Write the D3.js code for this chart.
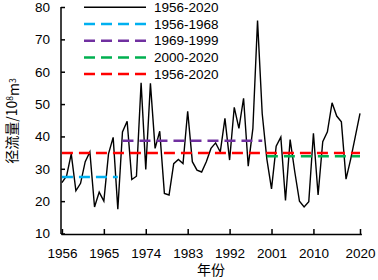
<!DOCTYPE html>
<html><head><meta charset="utf-8">
<script src="https://cdn.jsdelivr.net/npm/d3@7"></script>
<style>body{margin:0;background:#fff}svg{display:block}</style>
</head><body><svg id="c" width="378" height="280"></svg>
<script>
// ---- data ----
const startYear = 1956, endYear = 2020;
const runoff = [
  25.7, 27.8, 34.6, 23.2, 25.5, 32.2, 35.2, 18.2, 22.8, 20.0, 34.6, 39.7, 17.5,          // 1956-1968
  41.4, 44.7, 26.7, 27.7, 56.6, 29.8, 56.4, 36.3, 41.6, 22.4, 21.9, 31.6, 32.9, 31.6,    // 1969-1982
  47.8, 32.2, 29.6, 29.0, 32.2, 36.3, 38.0, 35.2, 45.6, 32.7, 49.0, 42.5, 51.8, 30.8,    // 1983-1996
  42.5, 75.8, 47.1,                                                                      // 1997-1999
  33.0, 23.8, 37.0, 39.8, 20.2, 39.0, 29.0, 20.0, 18.2, 19.8, 41.0, 21.9, 38.4, 41.4,    // 2000-2013
  50.4, 46.3, 44.5, 26.8, 33.0, 40.0, 47.1                                               // 2014-2020
];
const seriesLabel = "1956-2020";
const periodLabels = ["1956-1968", "1969-1999", "2000-2020", "1956-2020"];
const periodStart = [1956, 1969, 2000, 1956];
const periodEnd = [1968, 1999, 2020, 2020];
const periodColors = ["#00B0F0", "#7030A0", "#00B050", "#FF0000"];
const xTicks = [1956, 1965, 1974, 1983, 1992, 2001, 2010, 2020];
const yTicks = [10, 20, 30, 40, 50, 60, 70, 80];
const xTitle = "年份";

const years = d3.range(startYear, endYear + 1);
const series = years.map((yr, i) => ({year: yr, value: runoff[i]}));
const means = periodLabels.map((lab, k) => ({
  label: lab, start: periodStart[k], end: periodEnd[k], color: periodColors[k],
  mean: d3.mean(series.filter(d => d.year >= periodStart[k] && d.year <= periodEnd[k]), d => d.value)
}));

// ---- layout ----
const svg = d3.select("#c");
const font = "'Liberation Sans', Arial, sans-serif";
const x = d3.scaleLinear().domain([1955.8, 2020.3]).range([61, 361.4]);
const y = d3.scaleLinear().domain([10, 80]).range([233.5, 7]);
const axisY = 234;

// axes
const gx = svg.append("g").attr("transform", `translate(0,${axisY})`)
  .call(d3.axisBottom(x).tickValues(xTicks).tickFormat(d3.format("d"))
    .tickSizeInner(-5).tickSizeOuter(0).tickPadding(14));
const gy = svg.append("g").attr("transform", `translate(61,0)`)
  .call(d3.axisLeft(y).tickValues(yTicks).tickSizeInner(-4).tickSizeOuter(0).tickPadding(11));
[gx, gy].forEach(g => {
  g.select(".domain").attr("stroke", "#000").attr("stroke-width", 1.5);
  g.selectAll(".tick line").attr("stroke", "#000").attr("stroke-width", 1.5);
  g.selectAll(".tick text").attr("fill", "#000").style("font-family", font).style("font-size", "13.5px");
});
gy.select(".domain").attr("d", `M0,${y(80)}V${axisY}`);

// data line
const line = d3.line().x(d => x(d.year)).y(d => y(d.value));
svg.append("path").datum(series).attr("d", line)
  .attr("fill", "none").attr("stroke", "#000").attr("stroke-width", 1.4).attr("stroke-linejoin", "miter");

// mean lines
svg.selectAll(".mean").data(means).enter().append("line")
  .attr("x1", d => x(d.start)).attr("x2", d => x(d.end))
  .attr("y1", d => y(d.mean)).attr("y2", d => y(d.mean))
  .attr("stroke", d => d.color).attr("stroke-width", 2.5).attr("stroke-dasharray", "11,6");

// legend
const legendItems = [{label: seriesLabel, color: "#000", dash: null, w: 1.4}]
  .concat(means.map(d => ({label: d.label, color: d.color, dash: "11,6", w: 2.5})));
const lg = svg.append("g");
legendItems.forEach((d, i) => {
  const yy = 7.3 + i * 16.7;
  lg.append("line").attr("x1", 84).attr("x2", 146).attr("y1", yy).attr("y2", yy)
    .attr("stroke", d.color).attr("stroke-width", d.w).attr("stroke-dasharray", d.dash);
  lg.append("text").attr("x", 154).attr("y", yy).attr("dy", "0.35em")
    .style("font-family", font).style("font-size", "13.5px").attr("fill", "#000").text(d.label);
});

// titles
const yt = svg.append("text").attr("transform", "translate(17,121) rotate(-90)")
  .attr("text-anchor", "middle").style("font-family", "'Noto Sans CJK SC', sans-serif")
  .style("font-size", "14px").attr("fill", "#000");
yt.append("tspan").text("径流量/10");
yt.append("tspan").attr("dy", "-0.45em").style("font-size", "8.5px").text("8");
yt.append("tspan").attr("dy", "0.45em").text("m");
yt.append("tspan").attr("dy", "-0.45em").style("font-size", "8.5px").text("3");

svg.append("text").attr("x", 211).attr("y", 275).attr("text-anchor", "middle")
  .style("font-family", "'Noto Sans CJK SC', sans-serif").style("font-size", "14px")
  .attr("fill", "#000").text(xTitle);
</script></body></html>
